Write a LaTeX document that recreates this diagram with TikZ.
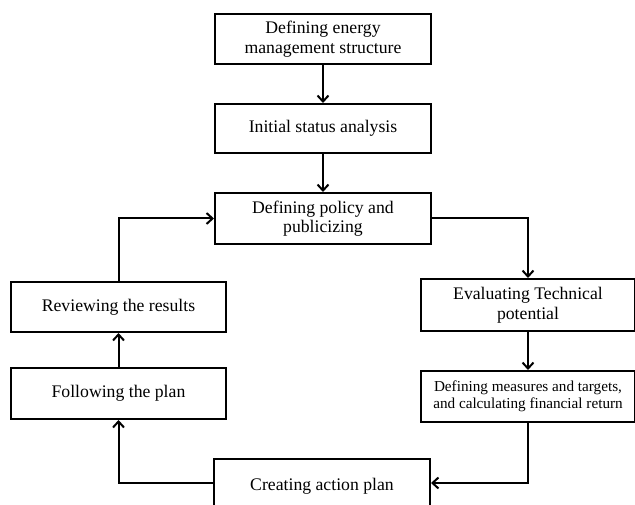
\documentclass[tikz,border=0pt]{standalone}
\usepackage{fontspec}
\setmainfont{Liberation Serif}
\usetikzlibrary{arrows.meta}
\begin{document}
\begin{tikzpicture}[x=1pt,y=-1pt,
  box/.style={draw=black, line width=2pt, fill=white, align=center, inner sep=2pt,
    font=\fontsize{17.7}{19.5}\selectfont},
  smallbox/.style={box, font=\fontsize{15.2}{17}\selectfont},
  conn/.style={line width=2pt, -{Straight Barb[length=6pt,width=11pt,line width=2pt]}}]
\useasboundingbox (0,0) rectangle (635,505);
\fill[white] (0,0) rectangle (635,505);
\node[box, minimum width=216pt, minimum height=50pt] (A) at (323,39) {Defining energy\\management structure};
\node[box, minimum width=216pt, minimum height=49pt] (B) at (323,128.5) {Initial status analysis};
\node[box, minimum width=216pt, minimum height=51pt] (C) at (323,218.5) {Defining policy and\\publicizing};
\node[box, minimum width=214pt, minimum height=52pt] (D) at (528,305) {Evaluating Technical\\potential};
\node[smallbox, minimum width=214pt, minimum height=51pt] (E) at (528,396.5) {Defining measures and targets,\\and calculating financial return};
\node[box, minimum width=216pt, minimum height=54pt] (F) at (322,486) {Creating action plan};
\node[box, minimum width=215pt, minimum height=50pt] (R) at (118.5,307) {Reviewing the results};
\node[box, minimum width=215pt, minimum height=51pt] (L) at (118.5,393.5) {Following the plan};
\draw[conn] (A) -- (B);
\draw[conn] (B) -- (C);
\draw[conn] (C.east) -| (D.north);
\draw[conn] (D) -- (E);
\draw[conn] (E.south) |- ([yshift=3pt]F.east);
\draw[conn] ([yshift=3pt]F.west) -| (L.south);
\draw[conn] (L) -- (R);
\draw[conn] (R.north) |- (C.west);
\end{tikzpicture}
\end{document}
